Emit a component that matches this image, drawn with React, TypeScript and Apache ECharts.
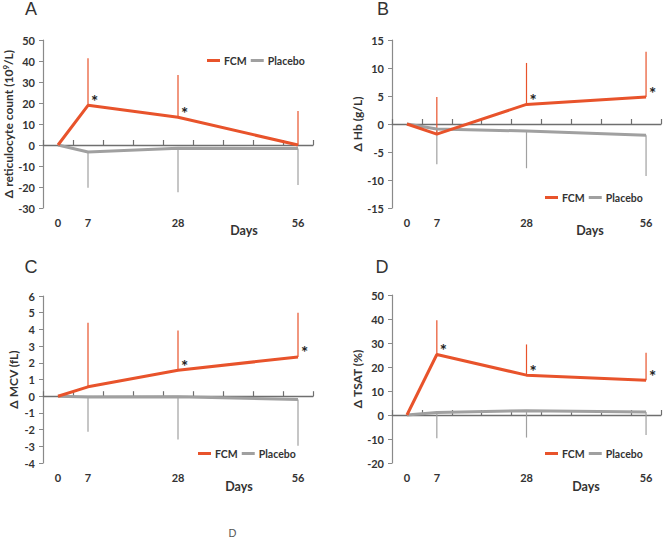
import React, { useEffect, useRef } from "react";
import * as echarts from "echarts";

const CATEGORIES = ["0", "7", "14", "21", "28", "35", "42", "49", "56"];
const SHOWN_LABELS = ["0", "7", "28", "56"];
const DAY_INDEX = [0, 1, 4, 8];

// Panel A: reticulocyte count
const A_FCM = [0, 18.9, 13.2, 0];
const A_FCM_UP = [null, 41.3, 33.3, 16.2];
const A_PLA = [0, -3.3, -1.6, -1.7];
const A_PLA_LO = [null, -20.3, -22.5, -19];
const A_STARS = [false, true, true, false];

// Panel B: Hb
const B_FCM = [0, -1.8, 3.5, 4.8];
const B_FCM_UP = [null, 4.8, 10.9, 12.9];
const B_PLA = [0, -0.9, -1.25, -2];
const B_PLA_LO = [null, -7.2, -7.9, -9.3];
const B_STARS = [false, false, true, true];

// Panel C: MCV
const C_FCM = [0, 0.56, 1.55, 2.35];
const C_FCM_UP = [null, 4.4, 3.94, 5.0];
const C_PLA = [0, -0.05, -0.03, -0.2];
const C_PLA_LO = [null, -2.13, -2.6, -2.96];
const C_STARS = [false, false, true, true];

// Panel D: TSAT
const D_FCM = [0, 25.2, 16.6, 14.5];
const D_FCM_UP = [null, 39.5, 29.4, 25.9];
const D_PLA = [0, 1.0, 1.8, 1.2];
const D_PLA_LO = [null, -9.7, -9.4, -8.3];
const D_STARS = [false, true, true, true];

const ORANGE = "#E8532B";
const GRAY = "#A0A0A0";
const TEXT = "#333333";
const FONT = "Lato";

type Panel = {
  letter: string;
  yName: string;
  min: number;
  max: number;
  interval: number;
  fcm: number[];
  fcmUp: (number | null)[];
  pla: number[];
  plaLo: (number | null)[];
  stars: boolean[];
  grid: { left: number; top: number; width: number; height: number };
  nameGap: number;
  legend: { left: number; top: number };
  letterPos: [number, number];
  daysPos: [number, number];
};

const PANELS: Panel[] = [
  {
    letter: "A", yName: "Δ reticulocyte count (10{sup|9}/L)", min: -30, max: 50, interval: 10,
    fcm: A_FCM, fcmUp: A_FCM_UP, pla: A_PLA, plaLo: A_PLA_LO, stars: A_STARS,
    grid: { left: 43, top: 40, width: 270, height: 168 }, nameGap: 22,
    legend: { left: 202, top: 50 }, letterPos: [31, 9], daysPos: [244, 230],
  },
  {
    letter: "B", yName: "Δ Hb (g/L)", min: -15, max: 15, interval: 5,
    fcm: B_FCM, fcmUp: B_FCM_UP, pla: B_PLA, plaLo: B_PLA_LO, stars: B_STARS,
    grid: { left: 392, top: 40, width: 269, height: 168 }, nameGap: 19,
    legend: { left: 540, top: 187 }, letterPos: [383, 9], daysPos: [590, 230],
  },
  {
    letter: "C", yName: "Δ MCV (fL)", min: -4, max: 6, interval: 1,
    fcm: C_FCM, fcmUp: C_FCM_UP, pla: C_PLA, plaLo: C_PLA_LO, stars: C_STARS,
    grid: { left: 43, top: 296, width: 270, height: 167 }, nameGap: 24,
    legend: { left: 193, top: 443 }, letterPos: [31, 267], daysPos: [239, 486],
  },
  {
    letter: "D", yName: "Δ TSAT (%)", min: -20, max: 50, interval: 10,
    fcm: D_FCM, fcmUp: D_FCM_UP, pla: D_PLA, plaLo: D_PLA_LO, stars: D_STARS,
    grid: { left: 392, top: 295, width: 269, height: 168 }, nameGap: 26,
    legend: { left: 540, top: 443 }, letterPos: [382, 267], daysPos: [586, 486],
  },
];

function errorRender(color: string) {
  return (params: any, api: any) => {
    const x = api.value(0);
    const y = api.value(1);
    const e = api.value(2);
    const star = api.value(3);
    const p = api.coord([x, y]);
    const q = api.coord([x, e]);
    const children: any[] = [
      {
        type: "line",
        shape: { x1: p[0], y1: p[1], x2: q[0], y2: q[1] },
        style: { stroke: color, lineWidth: 1.2 },
      },
    ];
    if (star) {
      children.push({
        type: "text",
        x: p[0] + 3,
        y: p[1] - 4,
        style: {
          text: "*",
          fill: "#222",
          font: `bold 17px ${FONT}`,
          textAlign: "left",
          textVerticalAlign: "middle",
        },
      });
    }
    return { type: "group", children };
  };
}

function buildOption() {
  const grid: any[] = [];
  const xAxis: any[] = [];
  const yAxis: any[] = [];
  const series: any[] = [];
  const legend: any[] = [];
  const graphic: any[] = [];

  PANELS.forEach((pn, i) => {
    grid.push({ ...pn.grid, containLabel: false });
    xAxis.push({
      type: "category",
      gridIndex: i,
      data: CATEGORIES,
      position: "bottom",
      boundaryGap: true,
      axisLine: { onZero: true, lineStyle: { color: "#6f6f6f", width: 1.3 } },
      axisTick: { show: true, interval: 0, inside: true, length: 5, lineStyle: { color: "#6f6f6f", width: 1.2 } },
      axisLabel: { show: false },
      splitLine: { show: false },
    });
    xAxis.push({
      type: "category",
      gridIndex: i,
      data: CATEGORIES,
      position: "bottom",
      boundaryGap: true,
      axisLine: { show: false, onZero: false },
      axisTick: { show: false },
      axisLabel: {
        show: true,
        interval: 0,
        margin: 9,
        formatter: (v: string) => (SHOWN_LABELS.includes(v) ? v : ""),
        color: TEXT,
        fontFamily: FONT,
        fontWeight: "bold",
        fontSize: 11,
      },
      splitLine: { show: false },
    });
    yAxis.push({
      type: "value",
      gridIndex: i,
      min: pn.min,
      max: pn.max,
      interval: pn.interval,
      name: pn.yName,
      nameLocation: "middle",
      nameGap: pn.nameGap,
      nameTextStyle: {
        color: TEXT,
        fontFamily: FONT,
        fontWeight: "bold",
        fontSize: 12,
        rich: {
          sup: { fontSize: 8, fontWeight: "bold", fontFamily: FONT, color: TEXT, verticalAlign: "top", padding: [0, 0, 5, 0] },
        },
      },
      axisLine: { show: true, lineStyle: { color: "#8a8a8a", width: 1.2 } },
      axisTick: { show: true, length: 4, lineStyle: { color: "#8a8a8a" } },
      axisLabel: { color: TEXT, fontFamily: FONT, fontWeight: "bold", fontSize: 11, margin: 8 },
      splitLine: { show: false },
    });

    const xi = i * 2;
    const errFcm = DAY_INDEX.map((d, k) => (pn.fcmUp[k] == null ? null : [d, pn.fcm[k], pn.fcmUp[k], pn.stars[k] ? 1 : 0])).filter(Boolean);
    const errPla = DAY_INDEX.map((d, k) => (pn.plaLo[k] == null ? null : [d, pn.pla[k], pn.plaLo[k], 0])).filter(Boolean);

    series.push({
      type: "custom",
      name: "Placebo SD " + pn.letter,
      xAxisIndex: xi,
      yAxisIndex: i,
      data: errPla,
      encode: { x: 0, y: [1, 2] },
      renderItem: errorRender(GRAY),
      z: 1,
    });
    series.push({
      type: "custom",
      name: "FCM SD " + pn.letter,
      xAxisIndex: xi,
      yAxisIndex: i,
      data: errFcm,
      encode: { x: 0, y: [1, 2] },
      renderItem: errorRender(ORANGE),
      z: 1,
    });
    series.push({
      type: "line",
      name: "Placebo",
      xAxisIndex: xi,
      yAxisIndex: i,
      data: DAY_INDEX.map((d, k) => [d, pn.pla[k]]),
      showSymbol: false,
      symbol: "none",
      lineStyle: { color: GRAY, width: 3 },
      itemStyle: { color: GRAY },
      z: 3,
    });
    series.push({
      type: "line",
      name: "FCM",
      xAxisIndex: xi,
      yAxisIndex: i,
      data: DAY_INDEX.map((d, k) => [d, pn.fcm[k]]),
      showSymbol: false,
      symbol: "none",
      lineStyle: { color: ORANGE, width: 3 },
      itemStyle: { color: ORANGE },
      z: 4,
    });

    legend.push({
      data: ["FCM", "Placebo"],
      left: pn.legend.left,
      top: pn.legend.top,
      orient: "horizontal",
      icon: "rect",
      itemWidth: 13,
      itemHeight: 3,
      itemGap: 4,
      selectedMode: false,
      textStyle: { color: TEXT, fontFamily: FONT, fontWeight: "bold", fontSize: 10.5, padding: [0, 0, 0, -1] },
    });

    graphic.push({
      type: "text",
      x: pn.letterPos[0],
      y: pn.letterPos[1],
      style: {
        text: pn.letter,
        fill: "#333",
        font: "18px 'Liberation Sans'",
        textAlign: "center",
        textVerticalAlign: "middle",
      },
    });
    graphic.push({
      type: "text",
      x: pn.daysPos[0],
      y: pn.daysPos[1],
      style: {
        text: "Days",
        fill: TEXT,
        font: `bold 12.5px ${FONT}`,
        textAlign: "center",
        textVerticalAlign: "middle",
      },
    });
  });

  graphic.push({
    type: "text",
    x: 232.5,
    y: 533,
    style: {
      text: "D",
      fill: "#555",
      font: "11px 'Liberation Sans'",
      textAlign: "center",
      textVerticalAlign: "middle",
    },
  });

  return {
    animation: false,
    backgroundColor: "#ffffff",
    grid,
    xAxis,
    yAxis,
    series,
    legend,
    graphic,
  };
}

export default function App() {
  const ref = useRef<HTMLDivElement>(null);
  useEffect(() => {
    if (!ref.current) return;
    const chart = echarts.init(ref.current, undefined, { renderer: "svg" });
    chart.setOption(buildOption() as any);
    return () => chart.dispose();
  }, []);
  return (
    <div
      ref={ref}
      style={{ position: "fixed", left: 0, top: 0, width: 666, height: 539, background: "#fff" }}
    />
  );
}
